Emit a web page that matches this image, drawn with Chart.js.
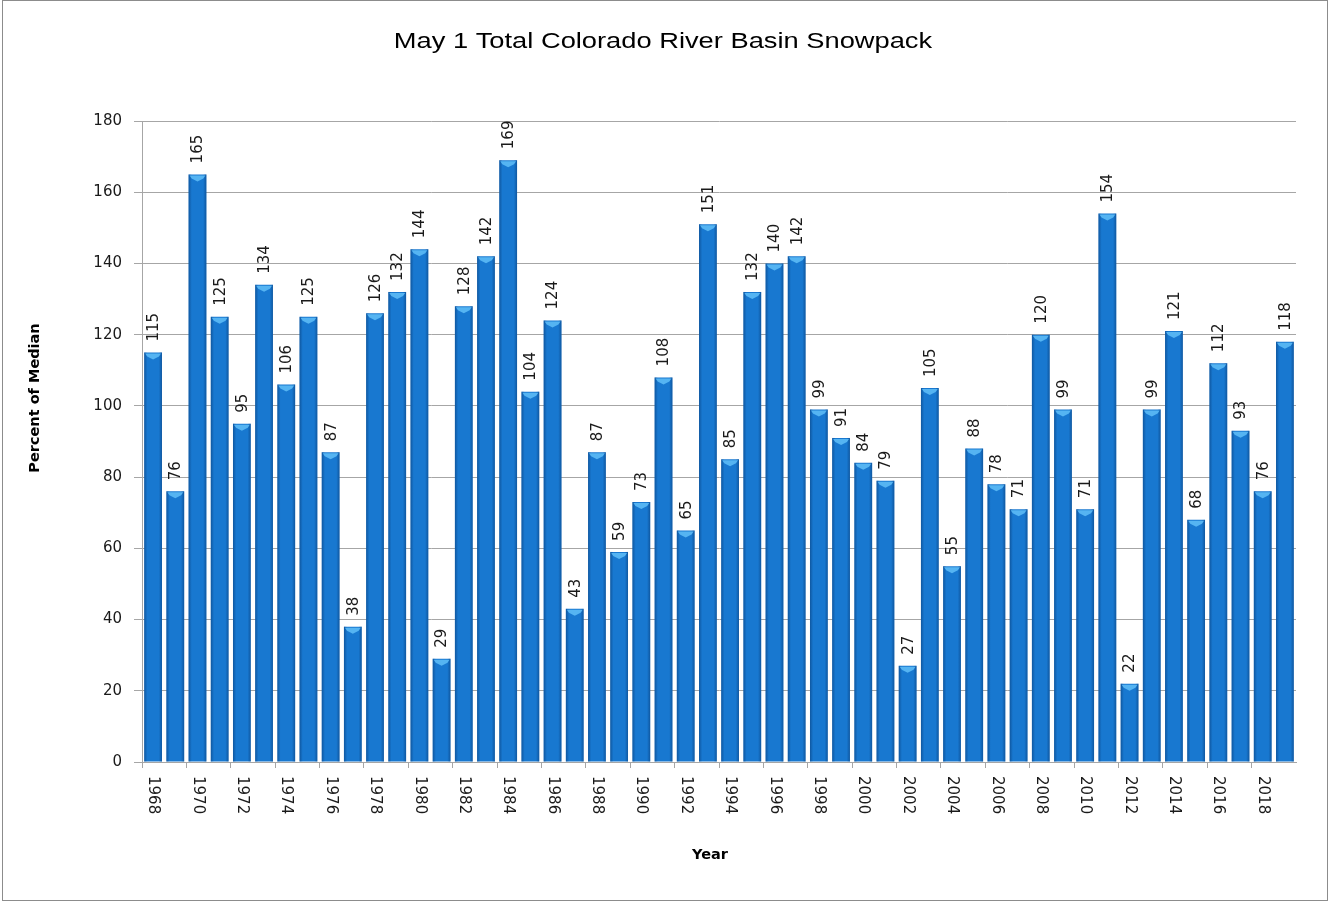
<!DOCTYPE html>
<html>
<head>
<meta charset="utf-8">
<script src="https://cdn.jsdelivr.net/npm/chart.js@4.4.0/dist/chart.umd.min.js"></script>
<style>
  html, body { margin: 0; padding: 0; background: #ffffff; }
  #c { display: block; }
</style>
</head>
<body>
<canvas id="c" width="1329" height="902"></canvas>
<script>
// ---- data ----
const years = [
  1968, 1969, 1970, 1971, 1972, 1973, 1974, 1975, 1976, 1977,
  1978, 1979, 1980, 1981, 1982, 1983, 1984, 1985, 1986, 1987,
  1988, 1989, 1990, 1991, 1992, 1993, 1994, 1995, 1996, 1997,
  1998, 1999, 2000, 2001, 2002, 2003, 2004, 2005, 2006, 2007,
  2008, 2009, 2010, 2011, 2012, 2013, 2014, 2015, 2016, 2017,
  2018, 2019
];
const percentOfMedian = [
  115, 76, 165, 125, 95, 134, 106, 125, 87, 38,
  126, 132, 144, 29, 128, 142, 169, 104, 124, 43,
  87, 59, 73, 108, 65, 151, 85, 132, 140, 142,
  99, 91, 84, 79, 27, 105, 55, 88, 78, 71,
  120, 99, 71, 154, 22, 99, 121, 68, 112, 93,
  76, 118
];
const yTicks = [0, 20, 40, 60, 80, 100, 120, 140, 160, 180];
const chartTitle = 'May 1 Total Colorado River Basin Snowpack';
const xTitle = 'Year';
const yTitle = 'Percent of Median';

const gridColor = '#a6a6a6';
const tickFont = '15px "DejaVu Sans", Verdana, sans-serif';

const decorPlugin = {
  id: 'decor',
  beforeDraw(chart) {
    const ctx = chart.ctx;
    ctx.save();
    ctx.fillStyle = '#ffffff';
    ctx.fillRect(0, 0, chart.width, chart.height);
    ctx.restore();
  },
  afterDatasetsDraw(chart) {
    const ctx = chart.ctx;
    const meta = chart.getDatasetMeta(0);
    ctx.save();
    meta.data.forEach((bar) => {
      const w = bar.width;
      const l = bar.x - w / 2, r = bar.x + w / 2;
      const top = bar.y, base = bar.base;
      const g = ctx.createLinearGradient(l, 0, r, 0);
      g.addColorStop(0, 'rgba(8,60,120,0.55)');
      g.addColorStop(0.18, 'rgba(8,60,120,0.0)');
      g.addColorStop(0.82, 'rgba(8,60,120,0.0)');
      g.addColorStop(1, 'rgba(8,60,120,0.55)');
      ctx.fillStyle = g;
      ctx.fillRect(l, top, w, base - top);
      ctx.fillStyle = '#55b4f2';
      ctx.beginPath();
      ctx.moveTo(l + 1, top + 1);
      ctx.lineTo(r - 1, top + 1);
      ctx.lineTo(r - 3, top + 4);
      ctx.lineTo(bar.x, top + 7);
      ctx.lineTo(l + 3, top + 4);
      ctx.closePath();
      ctx.fill();
    });
    ctx.fillStyle = '#1a1a1a';
    ctx.font = tickFont;
    ctx.textAlign = 'left';
    ctx.textBaseline = 'middle';
    meta.data.forEach((bar, i) => {
      ctx.save();
      ctx.translate(bar.x + 1, bar.y - 11);
      ctx.rotate(-Math.PI / 2);
      ctx.fillText(String(percentOfMedian[i]), 0, 0);
      ctx.restore();
    });
    ctx.restore();
  },
  afterDraw(chart) {
    const ctx = chart.ctx;
    const xs = chart.scales.x;
    const ys = chart.scales.y;
    ctx.save();
    ctx.fillStyle = '#1a1a1a';
    ctx.font = tickFont;
    ctx.textAlign = 'left';
    ctx.textBaseline = 'middle';
    years.forEach((yr, i) => {
      if (i % 2 !== 0) return;
      const x = xs.getPixelForValue(i);
      ctx.save();
      ctx.translate(x, ys.bottom + 14);
      ctx.rotate(Math.PI / 2);
      ctx.fillText(String(yr), 0, 0);
      ctx.restore();
    });
    // chart title (horizontally widened like the reference)
    ctx.fillStyle = '#000000';
    ctx.font = '22px "Liberation Sans", Arial, sans-serif';
    ctx.textAlign = 'center';
    ctx.textBaseline = 'alphabetic';
    ctx.save();
    ctx.translate(663, 48);
    ctx.scale(1.24, 1);
    ctx.fillText(chartTitle, 0, 0);
    ctx.restore();
    // axis titles
    ctx.textBaseline = 'middle';
    ctx.font = 'bold 14.5px "DejaVu Sans", Verdana, sans-serif';
    ctx.fillText(xTitle, 710, 855);
    ctx.save();
    ctx.translate(35, 398);
    ctx.rotate(-Math.PI / 2);
    ctx.fillText(yTitle, 0, 0);
    ctx.restore();
    // outer frame
    ctx.strokeStyle = '#8c8c8c';
    ctx.lineWidth = 1;
    ctx.strokeRect(2.5, 0.5, 1325, 900);
    ctx.restore();
  }
};

new Chart(document.getElementById('c'), {
  type: 'bar',
  data: {
    labels: years.map(String),
    datasets: [{
      data: percentOfMedian,
      backgroundColor: '#1878d0',
      borderWidth: 0,
      barPercentage: 0.8,
      categoryPercentage: 1.0
    }]
  },
  options: {
    responsive: false,
    animation: false,
    devicePixelRatio: 1,
    layout: { padding: { left: 0, right: 33, top: 121, bottom: 0 } },
    plugins: {
      legend: { display: false },
      title: { display: false },
      tooltip: { enabled: false }
    },
    scales: {
      x: {
        type: 'category',
        offset: true,
        grid: {
          offset: true,
          drawOnChartArea: false,
          drawTicks: true,
          tickLength: 6,
          color: (c) => (c.index % 2 === 0 ? gridColor : 'rgba(0,0,0,0)')
        },
        border: { display: true, color: gridColor, width: 1 },
        ticks: { display: false, autoSkip: false },
        afterFit: (s) => { s.height = 902 - 762; }
      },
      y: {
        min: 0,
        max: 180,
        afterBuildTicks: (s) => { s.ticks = yTicks.map(v => ({ value: v })); },
        grid: {
          color: gridColor,
          lineWidth: 1,
          drawTicks: true,
          tickLength: 8
        },
        border: { display: true, color: gridColor, width: 1 },
        ticks: {
          color: '#1a1a1a',
          font: { family: '"DejaVu Sans", Verdana, sans-serif', size: 15 },
          padding: 12
        },
        afterFit: (s) => { s.width = 142; }
      }
    }
  },
  plugins: [decorPlugin]
});
</script>
</body>
</html>
